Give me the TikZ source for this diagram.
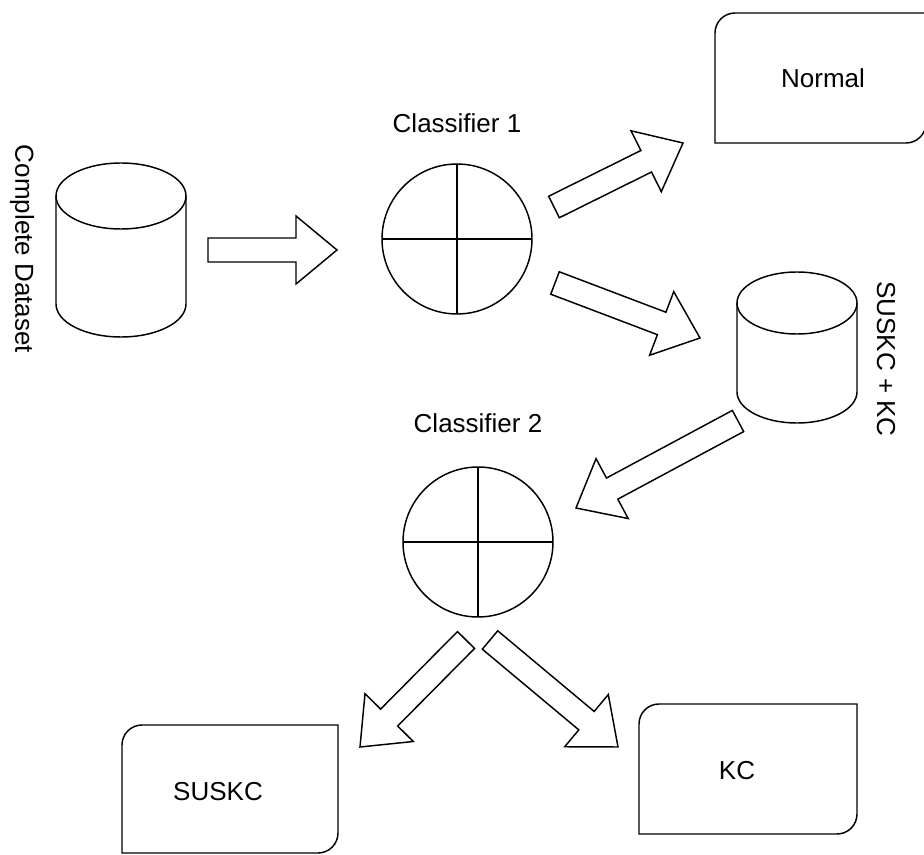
\documentclass[tikz,border=0pt]{standalone}
\usepackage{fontspec}
\setmainfont{Liberation Sans}
\usetikzlibrary{calc}

\tikzset{
  outline/.style={draw=black, line width=1.1pt, line join=miter},
  lbl/.style={font=\fontsize{19.5}{23}\selectfont, inner sep=0pt, text=black},
  classifier/.style={outline, circle, minimum size=112.5pt, inner sep=0pt, outer sep=0pt},
  blk/.style={outline, fill=white}
}

% drum (cylinder): centre x, top y, half width, bottom y, cap radius
\newcommand\drum[5]{%
  \draw[outline, fill=white] ({#1-#3},{#2+#5}) -- ({#1-#3},{#4-#5})
    arc[start angle=180, end angle=0, x radius=#3, y radius=#5] -- ({#1+#3},{#2+#5});
  \draw[outline] (#1,{#2+#5}) ellipse[x radius=#3, y radius=#5];
}

% box with rounded top-left and bottom-right corners: L, T, R, B
\newcommand\tabbox[4]{%
  \draw[outline] (#1,#4) -- (#1,{#2+20}) arc[start angle=180, end angle=270, radius=20]
    -- (#3,#2) -- (#3,{#4-20}) arc[start angle=0, end angle=90, radius=20] -- cycle;
}

% hollow block arrow from tail coordinate to tip coordinate
\newcommand\blockarrow[2]{%
  \draw[blk] let \p1=($(#2)-(#1)$), \n1={atan2(\y1,\x1)}, \n2={veclen(\x1,\y1)} in
    ($(#1)+({\n1+90}:9pt)$)
    -- ($(#1)+(\n1:{\n2-30.75pt})+({\n1+90}:9pt)$)
    -- ($(#1)+(\n1:{\n2-30.75pt})+({\n1+90}:25.5pt)$)
    -- (#2)
    -- ($(#1)+(\n1:{\n2-30.75pt})+({\n1-90}:25.5pt)$)
    -- ($(#1)+(\n1:{\n2-30.75pt})+({\n1-90}:9pt)$)
    -- ($(#1)+({\n1-90}:9pt)$) -- cycle;
}

\begin{document}
\begin{tikzpicture}[x=0.75pt, y=-0.75pt]
\useasboundingbox[fill=white] (0,0) rectangle (924,855);

% complete dataset store
\drum{121}{163}{65}{337}{33}
\node[inner sep=0pt, minimum width=97.5pt, minimum height=130.5pt] (db1) at (121,250) {};
\node[lbl, rotate=-90] (db1lbl) at (22,249) {Complete Dataset};

% intermediate store
\drum{797}{272}{60}{423}{31}
\node[inner sep=0pt, minimum width=90pt, minimum height=113.25pt] (db2) at (797,347.5) {};
\node[lbl, rotate=-90] (db2lbl) at (886,359) {SUSKC + KC};

% classifiers
\node[classifier] (cls1) at (457,239) {};
\draw[outline] (cls1.north) -- (cls1.south) (cls1.west) -- (cls1.east);
\node[lbl] (cls1lbl) at (457,123) {Classifier 1};

\node[classifier] (cls2) at (478,542) {};
\draw[outline] (cls2.north) -- (cls2.south) (cls2.west) -- (cls2.east);
\node[lbl] (cls2lbl) at (478,423) {Classifier 2};

% result boxes
\tabbox{715}{13}{926}{143}
\node[lbl] (normal) at (823,78) {Normal};
\tabbox{122}{725}{338}{853}
\node[lbl] (suskc) at (218,792) {SUSKC};
\tabbox{639}{704}{857}{834}
\node[lbl] (kc) at (737,771) {KC};

% arrow ends
\coordinate (a1s) at (208,250);  \coordinate (a1e) at (337,250);
\coordinate (a2s) at (554,207);  \coordinate (a2e) at (683,143);
\coordinate (a3s) at (555,283);  \coordinate (a3e) at (700,338);
\coordinate (a4s) at (738,421);  \coordinate (a4e) at (576,508);
\coordinate (a5s) at (466,640);  \coordinate (a5e) at (360,747);
\coordinate (a6s) at (490,640);  \coordinate (a6e) at (618,747);

\blockarrow{a1s}{a1e}
\blockarrow{a2s}{a2e}
\blockarrow{a3s}{a3e}
\blockarrow{a4s}{a4e}
\blockarrow{a5s}{a5e}
\blockarrow{a6s}{a6e}
\end{tikzpicture}
\end{document}
